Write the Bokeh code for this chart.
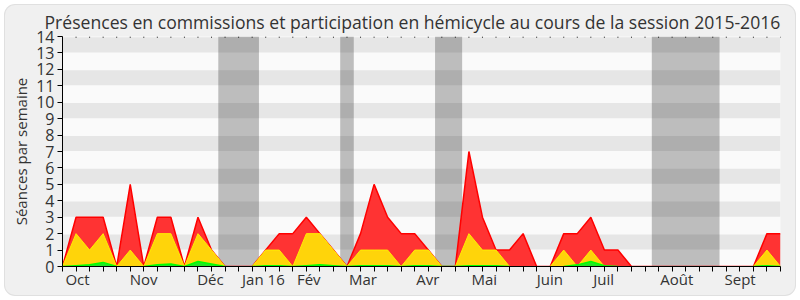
from bokeh.plotting import figure
from bokeh.models import FixedTicker, Range1d
from bokeh.embed import file_html
from bokeh.resources import INLINE

weeks = list(range(54))
red_total = [0, 3, 3, 3, 0, 5, 0, 3, 3, 0, 3, 1, 0, 0, 0, 1, 2, 2, 3, 2, 1, 0, 2, 5, 3, 2, 2, 1, 0, 0,
             7, 3, 1, 1, 2, 0, 0, 2, 2, 3, 1, 1, 0, 0, 0, 0, 0, 0, 0, 0, 0, 0, 2, 2]
yellow = [0, 2, 1, 2, 0, 1, 0, 2, 2, 0, 2, 1, 0, 0, 0, 1, 1, 0, 2, 2, 1, 0, 1, 1, 1, 0, 1, 1, 0, 0,
          2, 1, 1, 0, 0, 0, 0, 1, 0, 1, 0, 0, 0, 0, 0, 0, 0, 0, 0, 0, 0, 0, 1, 0]
green = [0, 0.05, 0.1, 0.25, 0, 0, 0, 0.1, 0.15, 0, 0.3, 0.15, 0, 0, 0, 0.05, 0.05, 0, 0.05, 0.1, 0.05, 0,
         0.05, 0.05, 0.05, 0, 0.05, 0.05, 0, 0, 0.05, 0.05, 0.05, 0, 0, 0, 0, 0, 0.1, 0.3, 0.05, 0, 0, 0,
         0, 0, 0, 0, 0, 0, 0, 0, 0.05, 0]

month_labels = ["Oct", "Nov", "Déc", "Jan 16", "Fév", "Mar", "Avr", "Mai", "Juin", "Juil", "Août", "Sept"]
month_pos = [1.11, 5.99, 10.92, 14.83, 18.18, 22.18, 26.97, 31.14, 35.98, 39.95, 45.35, 50.02]

vac_start = [11.5, 20.5, 27.5, 43.5]
vac_end = [14.5, 21.5, 29.5, 48.5]

y_ticks = list(range(15))
stripe_bottom = [1, 3, 5, 7, 9, 11, 13]

title_text = "Présences en commissions et participation en hémicycle au cours de la session 2015-2016"
FONT = "Open Sans"
TXT = "#333333"

p = figure(width=790, height=290, output_backend="svg", toolbar_location=None,
           x_range=Range1d(0, 53), y_range=Range1d(0, 14),
           min_border_left=57, min_border_right=15, min_border_top=31, min_border_bottom=29,
           background_fill_color="#fafafa", border_fill_color=None, outline_line_color=None,
           margin=(5, 5, 5, 5))
p.styles = {"background-color": "#f0f0f0", "box-shadow": "0 0 0 1px #e0e0e0", "border-radius": "10px"}

p.title.text = title_text
p.title.align = "left"
p.title.offset = -18
p.title.text_font = FONT
p.title.text_font_size = "17.6px"
p.title.text_font_style = "normal"
p.title.text_color = TXT
p.title.standoff = 5

p.grid.visible = False

# vacation bands
p.quad(left=vac_start, right=vac_end, bottom=0, top=14, fill_color="#bdbdbd", line_color=None)
# horizontal stripes
p.quad(left=0, right=53, bottom=[b + 0.03 for b in stripe_bottom], top=[b + 0.95 for b in stripe_bottom],
       fill_color="black", fill_alpha=0.08, line_color=None)

# areas
p.varea(x=weeks, y1=0, y2=red_total, fill_color="#ff3333")
p.line(weeks, red_total, line_color="#ff0000", line_width=1.5)
p.varea(x=weeks, y1=0, y2=yellow, fill_color="#ffd40a")
yl = [v if (v > 0 or (i > 0 and yellow[i - 1] > 0) or (i < len(yellow) - 1 and yellow[i + 1] > 0)) else float("nan")
      for i, v in enumerate(yellow)]
p.line(weeks, yl, line_color="#ffee00", line_width=1)
p.varea(x=weeks, y1=0, y2=green, fill_color="#22e822")
gl = [v if (v > 0 or (i > 0 and green[i - 1] > 0) or (i < len(green) - 1 and green[i + 1] > 0)) else float("nan")
      for i, v in enumerate(green)]
p.line(weeks, gl, line_color="#00ff00", line_width=1.5)

# top dots
p.segment(x0=weeks, x1=weeks, y0=13.93, y1=14, line_color="#000000", line_width=1)

# x axis
xa = p.xaxis[0]
xa.ticker = FixedTicker(ticks=month_pos, minor_ticks=weeks)
xa.major_label_overrides = {pos: lab for pos, lab in zip(month_pos, month_labels)}
xa.major_tick_line_color = None
xa.major_tick_out = 0
xa.major_tick_in = 0
xa.minor_tick_line_color = "#000000"
xa.minor_tick_out = 5
xa.minor_tick_in = 0
xa.axis_line_color = "#000000"
xa.major_label_text_font = FONT
xa.major_label_text_font_size = "15px"
xa.major_label_text_color = TXT
xa.major_label_standoff = -3

ya = p.yaxis[0]
ya.ticker = FixedTicker(ticks=y_ticks)
ya.minor_tick_line_color = None
ya.major_tick_out = 5
ya.major_tick_in = 0
ya.axis_line_color = "#000000"
ya.major_tick_line_color = "#000000"
ya.major_label_text_font = FONT
ya.major_label_text_font_size = "16px"
ya.major_label_text_color = TXT
ya.major_label_standoff = 3
ya.axis_label = "Séances par semaine"
ya.axis_label_text_font = FONT
ya.axis_label_text_font_size = "15px"
ya.axis_label_text_font_style = "normal"
ya.axis_label_text_color = TXT
ya.axis_label_standoff = 2

open("out.html", "w").write(file_html(p, INLINE))
